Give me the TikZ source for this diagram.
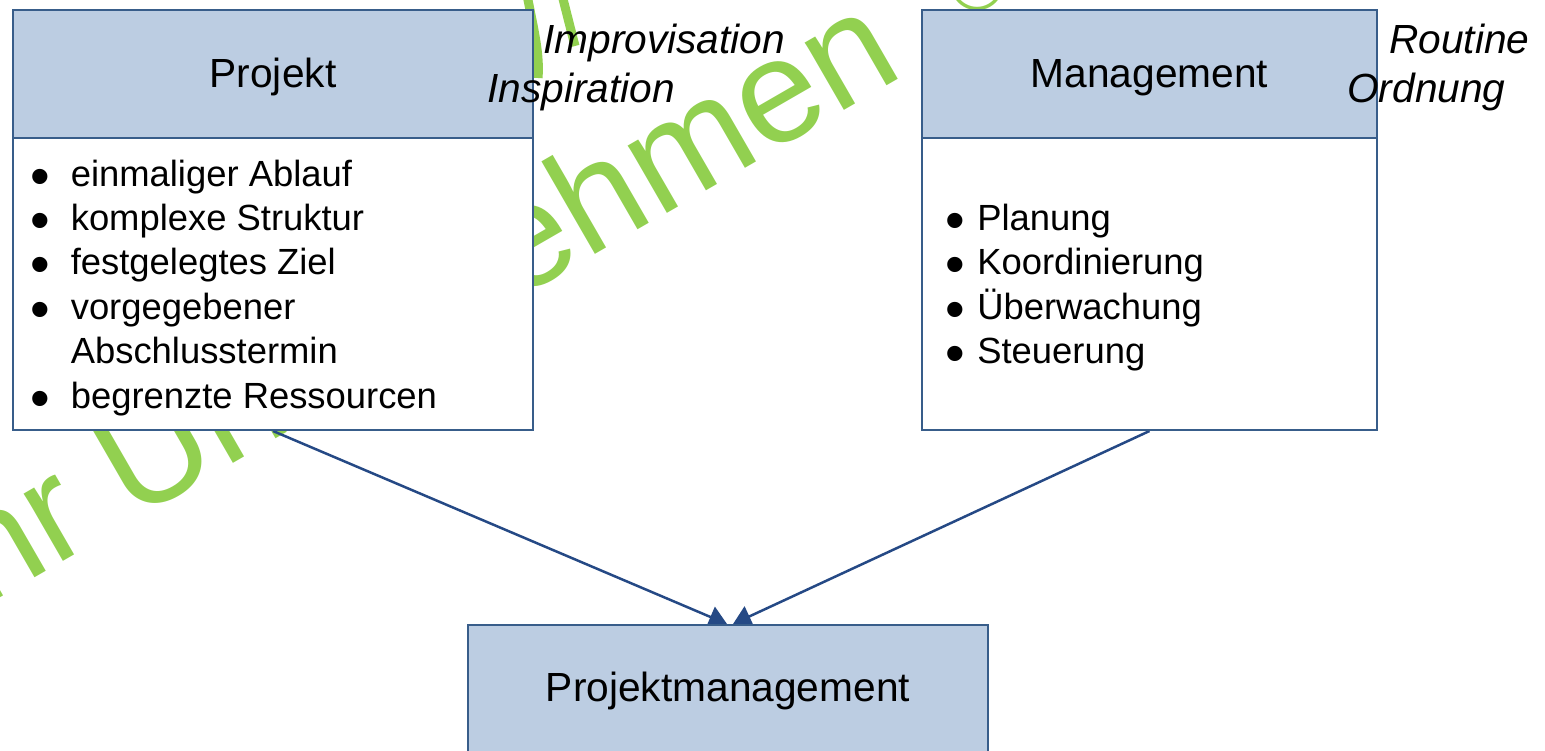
\documentclass[tikz,border=0pt]{standalone}
\usepackage{fontspec}
\setmainfont{Liberation Sans}
\usetikzlibrary{arrows.meta}
\definecolor{hdr}{RGB}{188,205,226}
\definecolor{bord}{RGB}{56,93,138}
\definecolor{arrc}{RGB}{37,73,133}
\definecolor{wmgreen}{RGB}{146,208,80}
\pgfdeclarelayer{back}
\pgfsetlayers{back,main}
\newcommand{\hfnt}{\fontsize{40.7}{48}\selectfont}
\newcommand{\lfnt}{\fontsize{36.4}{44.4}\selectfont}
\newcommand{\bul}[1]{\makebox[#1][l]{\hspace{-3.4pt}\raisebox{-9pt}{\fontsize{56}{44}\selectfont •}}}
\newcommand{\dn}[2]{\raisebox{-#1}[\height][\depth]{#2}}
\begin{document}
\begin{tikzpicture}[x=1pt,y=-1pt,
  headbox/.style={draw=bord,line width=2pt,fill=hdr,inner sep=0pt,font=\hfnt},
  bodybox/.style={draw=bord,line width=2pt,fill=white,inner sep=0pt},
  listtxt/.style={anchor=base west,inner sep=0pt,font=\lfnt,align=left},
  lbl/.style={anchor=base west,inner sep=0pt,font=\hfnt\itshape},
  arr/.style={draw=arrc,line width=2.5pt,-{Triangle[length=18pt,width=22pt]}},
  wmtxt/.style={text=wmgreen,inner sep=0pt,font=\fontsize{147.5}{150}\selectfont},
  wmstroke/.style={draw=wmgreen,line width=9pt}
]
\useasboundingbox (0,0) rectangle (1545,750);

% watermark (behind everything)
\begin{pgfonlayer}{back}
\node[wmtxt,rotate=30,anchor=base west] (wm) at (-52,628) {Ihr Unternehmen};
\node[wmtxt,rotate=30,font=\fontsize{75}{80}\selectfont] (wmc) at (977,-16) {©};
\draw[wmstroke] (527,-5) .. controls (534,30) and (540,55) .. (538,78);
\draw[wmstroke] (562,-5) -- (575,46);
\end{pgfonlayer}

% Projekt
\node[headbox,minimum width=520pt,minimum height=128pt] (projhead) at (273,74) {\dn{3pt}{Projekt}};
\node[bodybox,minimum width=520pt,minimum height=292pt] (projbody) at (273,284) {};
\node[listtxt] (projlist) at (33.6,186) {%
\begin{tabular}[t]{@{}l@{}l@{}}
\bul{37pt} & einmaliger Ablauf\\
\bul{37pt} & komplexe Struktur\\
\bul{37pt} & festgelegtes Ziel\\
\bul{37pt} & vorgegebener\\
 & Abschlusstermin\\
\bul{37pt} & begrenzte Ressourcen
\end{tabular}};

% Management
\node[headbox,minimum width=455pt,minimum height=128pt] (mgmthead) at (1149.5,74) {\dn{4pt}{Management}};
\node[bodybox,minimum width=455pt,minimum height=292pt] (mgmtbody) at (1149.5,284) {};
\node[listtxt] (mgmtlist) at (948.6,230.4) {%
\begin{tabular}[t]{@{}l@{}l@{}}
\bul{28.5pt} & Planung\\
\bul{28.5pt} & Koordinierung\\
\bul{28.5pt} & Überwachung\\
\bul{28.5pt} & Steuerung
\end{tabular}};

% Projektmanagement
\node[headbox,minimum width=520pt,minimum height=250pt] (pm) at (728,750) {};
\node[inner sep=0pt,font=\hfnt] (pmtext) at (728,691) {Projektmanagement};

% connectors (behind the target box)
\begin{pgfonlayer}{back}
\draw[arr] (projbody.south) -- ([xshift=-1pt]pm.north);
\draw[arr] (mgmtbody.south) -- ([xshift=5pt]pm.north);
\end{pgfonlayer}

% italic labels
\node[lbl] (impro) at (543,53) {Improvisation};
\node[lbl] (inspi) at (487,102) {Inspiration};
\node[lbl] (routine) at (1389,53) {Routine};
\node[lbl] (ordnung) at (1347,102) {Ordnung};
\end{tikzpicture}
\end{document}
